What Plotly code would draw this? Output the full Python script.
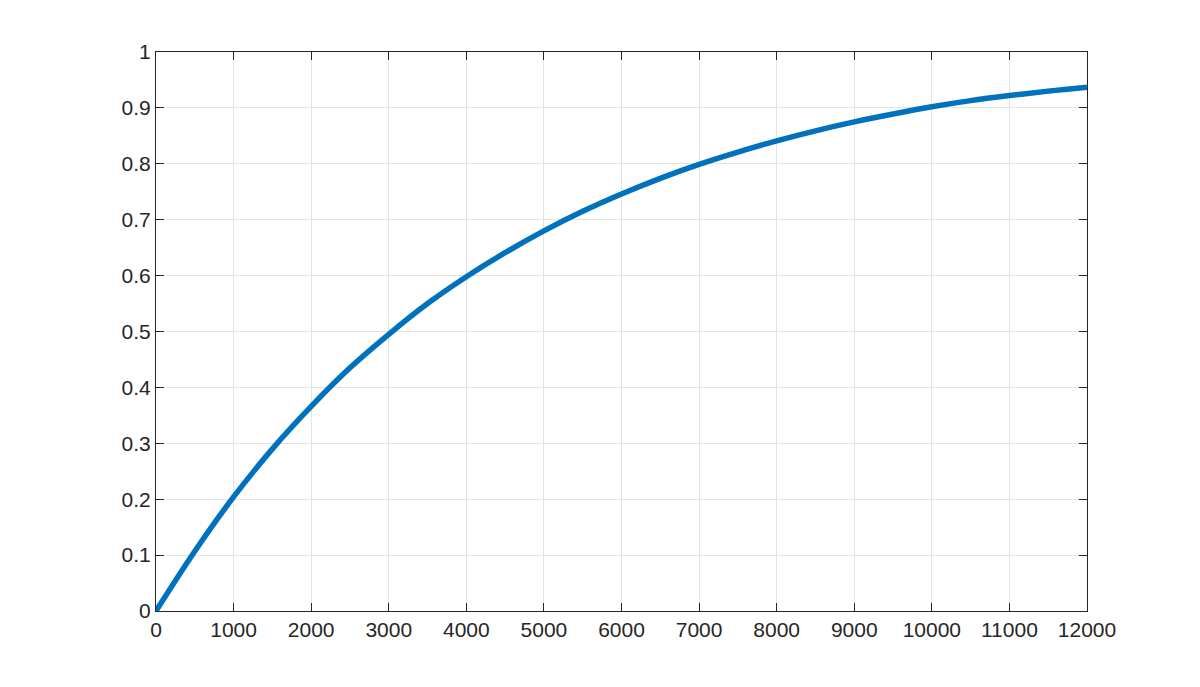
import plotly.graph_objects as go

x_vals = [0, 500, 1000, 1500, 2000, 2500, 3000, 3500, 4000, 4500, 5000, 5500,
          6000, 6500, 7000, 7500, 8000, 8500, 9000, 9500, 10000, 10500, 11000,
          11500, 12000]
y_vals = [0.0, 0.107, 0.204, 0.290, 0.366, 0.435, 0.495, 0.550, 0.598, 0.641,
          0.680, 0.715, 0.746, 0.774, 0.799, 0.821, 0.841, 0.859, 0.875, 0.889,
          0.902, 0.913, 0.922, 0.930, 0.937]
x_ticks = list(range(0, 12001, 1000))
y_ticks = [0, 0.1, 0.2, 0.3, 0.4, 0.5, 0.6, 0.7, 0.8, 0.9, 1]
y_tick_text = ["0", "0.1", "0.2", "0.3", "0.4", "0.5", "0.6", "0.7", "0.8", "0.9", "1"]

fig = go.Figure()
fig.add_trace(go.Scatter(x=x_vals, y=y_vals, mode="lines",
                         line=dict(color="#0072BD", width=5.5, shape="spline"),
                         showlegend=False))

axis_common = dict(showline=True, linecolor="#262626", linewidth=1, mirror="ticks",
                   ticks="inside", ticklen=8, tickcolor="#262626", showgrid=True,
                   gridcolor="#e3e3e3", gridwidth=1, zeroline=False,
                   tickfont=dict(family="Liberation Sans, Arial, sans-serif", size=21, color="#262626"))

fig.update_xaxes(range=[0, 12000], tickvals=x_ticks, ticktext=[str(v) for v in x_ticks], **axis_common)
fig.update_yaxes(range=[0, 1], tickvals=y_ticks, ticktext=y_tick_text, **axis_common)

fig.update_layout(width=1200, height=687, paper_bgcolor="white", plot_bgcolor="white",
                  margin=dict(l=148, r=121, t=44, b=84, pad=0))

fig.write_html("out.html")
